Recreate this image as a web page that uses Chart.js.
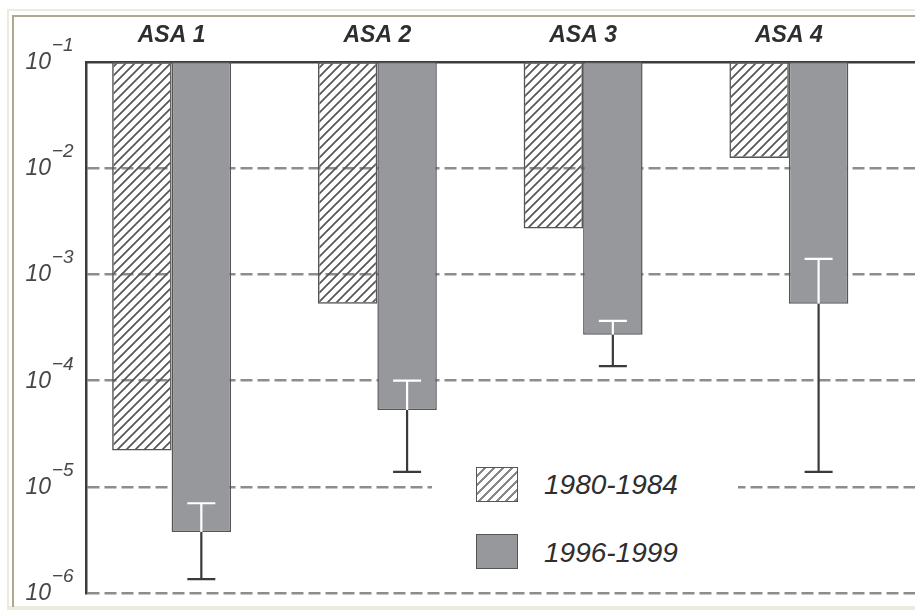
<!DOCTYPE html>
<html>
<head>
<meta charset="utf-8">
<script src="https://cdn.jsdelivr.net/npm/chart.js@4.4.1/dist/chart.umd.min.js"></script>
<style>
  html, body { margin: 0; padding: 0; background: #fff; }
  body { width: 915px; height: 610px; position: relative; overflow: hidden; font-family: "Liberation Sans", Arial, sans-serif; }
  #outer { position: absolute; left: 7px; top: 9px; width: 920px; height: 595px; border-top: 2px solid #efebdc; border-left: 2px solid #efebdc; border-bottom: 4px solid #efebdc; }
  #inner { position: absolute; left: 12px; top: 15px; width: 920px; height: 590px; border-top: 2px solid #aca893; border-left: 2px solid #aca893; }
  #chart { position: absolute; left: 0; top: 0; }
  #legend { position: absolute; left: 432px; top: 455px; width: 306px; height: 125px; background: #fff; }
  .swatch { position: absolute; left: 44px; width: 40px; height: 33px; border: 1.5px solid #555; box-sizing: content-box; }
  .hatch { background: repeating-linear-gradient(135deg, #fff 0, #fff 4.5px, #888 4.5px, #888 6.4px); }
  .solid { background: #97989c; }
  .label { position: absolute; left: 112px; font: italic 28px "Liberation Sans", Arial, sans-serif; color: #2e2e2e; line-height: 32px; }
</style>
</head>
<body>
<div id="outer"></div>
<div id="inner"></div>
<canvas id="chart" width="915" height="610"></canvas>
<div id="legend">
  <div class="swatch hatch" style="top:12px"></div>
  <div class="label" id="lab0" style="top:14px"></div>
  <div class="swatch solid" style="top:79px"></div>
  <div class="label" id="lab1" style="top:82px"></div>
</div>
<script>
const categories = ["ASA 1", "ASA 2", "ASA 3", "ASA 4"];
const seriesNames = ["1980-1984", "1996-1999"];
const rate1980 = [2.2e-5, 5.3e-4, 2.7e-3, 1.25e-2];
const rate1996 = [3.75e-6, 5.3e-5, 2.7e-4, 5.3e-4];
const err1996High = [7.0e-6, 1.0e-4, 3.65e-4, 1.4e-3];
const err1996Low = [1.35e-6, 1.38e-5, 1.37e-4, 1.38e-5];
const yTicks = [1e-6, 1e-5, 1e-4, 1e-3, 1e-2, 1e-1];
const yTop = 1e-1;

document.getElementById("lab0").textContent = seriesNames[0];
document.getElementById("lab1").textContent = seriesNames[1];

// diagonal hatch for the older series
function makeHatch() {
  const p = document.createElement("canvas");
  p.width = 9;
  p.height = 9;
  const c = p.getContext("2d");
  c.strokeStyle = "#555";
  c.lineWidth = 1.7;
  c.beginPath();
  c.moveTo(-1, 1); c.lineTo(1, -1);
  c.moveTo(0, 9); c.lineTo(9, 0);
  c.moveTo(8, 10); c.lineTo(10, 8);
  c.stroke();
  return c.createPattern(p, "repeat");
}

const ctx = document.getElementById("chart").getContext("2d");

const yLabels = {
  id: "yLabels",
  afterDraw(chart) {
    const y = chart.scales.y;
    const c = chart.ctx;
    c.save();
    c.fillStyle = "#474747";
    yTicks.forEach((v) => {
      const py = y.getPixelForValue(v);
      const exp = Math.round(Math.log10(v));
      c.font = 'italic 23px "Liberation Sans", Arial, sans-serif';
      c.textAlign = "right";
      c.textBaseline = "alphabetic";
      c.fillText("10", 51, py + 7);
      c.font = 'italic 19px "Liberation Sans", Arial, sans-serif';
      c.textAlign = "left";
      c.fillText("\u2212" + Math.abs(exp), 52, py - 11);
    });
    c.restore();
  },
};

const errorBars = {
  id: "errorBars",
  afterDatasetsDraw(chart) {
    const meta = chart.getDatasetMeta(1);
    const y = chart.scales.y;
    const c = chart.ctx;
    const half = 14;
    c.save();
    meta.data.forEach((bar, i) => {
      const x = bar.x;
      const y0 = y.getPixelForValue(rate1996[i]);
      const yHi = y.getPixelForValue(err1996High[i]);
      const yLo = y.getPixelForValue(err1996Low[i]);
      c.lineWidth = 2.2;
      c.strokeStyle = "#fff";
      c.beginPath();
      c.moveTo(x, y0); c.lineTo(x, yHi);
      c.moveTo(x - half, yHi); c.lineTo(x + half, yHi);
      c.stroke();
      c.strokeStyle = "#3a3a3a";
      c.beginPath();
      c.moveTo(x, y0); c.lineTo(x, yLo);
      c.moveTo(x - half, yLo); c.lineTo(x + half, yLo);
      c.stroke();
    });
    c.restore();
  },
};

new Chart(ctx, {
  type: "bar",
  data: {
    datasets: [
      {
        label: seriesNames[0],
        data: categories.map((c, i) => ({ x: i + 1, y: [rate1980[i], yTop] })),
        backgroundColor: makeHatch(),
        borderColor: "#555",
        borderWidth: 1.5,
        borderSkipped: false,
        categoryPercentage: 0.578,
        barPercentage: 1,
      },
      {
        label: seriesNames[1],
        data: categories.map((c, i) => ({ x: i + 1, y: [rate1996[i], yTop] })),
        backgroundColor: "#97989c",
        borderColor: "#555",
        borderWidth: 1.5,
        borderSkipped: false,
        categoryPercentage: 0.578,
        barPercentage: 1,
      },
    ],
  },
  options: {
    responsive: false,
    animation: false,
    layout: { padding: { left: 0, right: 0, top: 0, bottom: 17 } },
    plugins: { legend: { display: false }, tooltip: { enabled: false } },
    scales: {
      x: {
        type: "linear",
        position: "top",
        offset: false,
        min: 0.584,
        max: 4.613,
        grid: { display: false, drawTicks: false, offset: false },
        border: { color: "#3c3c3c", width: 2.5 },
        afterBuildTicks: (s) => {
          s.ticks = categories.map((c, i) => ({ value: i + 1 }));
        },
        afterFit: (s) => {
          s.height = 62;
        },
        ticks: {
          callback: (v) => categories[v - 1],
          autoSkip: false,
          maxRotation: 0,
          padding: 13,
          color: "#2e2e2e",
          font: { family: '"Liberation Sans", Arial, sans-serif', size: 23, style: "italic", weight: "bold" },
        },
      },
      y: {
        type: "logarithmic",
        min: 1e-6,
        max: 1e-1,
        afterBuildTicks: (s) => {
          s.ticks = yTicks.map((v) => ({ value: v }));
        },
        afterFit: (s) => {
          s.width = 86;
        },
        grid: {
          color: (c) => (c.tick && c.tick.value === yTop ? "rgba(0,0,0,0)" : "#8d8d8d"),
          lineWidth: 2.5,
          drawTicks: false,
        },
        border: { color: "#3c3c3c", width: 2.5, dash: [12, 5] },
        ticks: { display: false },
      },
    },
  },
  plugins: [yLabels, errorBars],
});
</script>
</body>
</html>
